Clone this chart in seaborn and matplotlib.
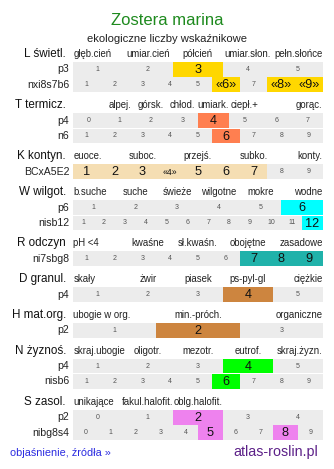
import matplotlib
matplotlib.use("Agg")
import matplotlib.pyplot as plt
import seaborn as sns
import pandas as pd

# ---------------- data ----------------
TITLE = "Zostera marina"
SUBTITLE = "ekologiczne liczby wskaźnikowe"
LINK_TEXT = "objaśnienie, źródła »"
SITE_TEXT = "atlas-roslin.pl"

L_name = "L świetl."
L_cats = ["głęb.cień", "umiar.cień", "półcień", "umiar.słon.", "pełn.słońce"]
L_cat_cells = [0, 1, 2, 3, 4]
L_p_code = "p3"
L_p_cells = ["1", "2", "3", "4", "5"]
L_p_marked = [2]
L_n_code = "nxi8s7b6"
L_n_cells = ["1", "2", "3", "4", "5", "«6»", "7", "«8»", "«9»"]
L_n_marked = [5, 7, 8]

T_name = "T termicz."
T_cats = ["alpej.", "górsk.", "chłod.", "umiark.", "ciepł.+", "gorąc."]
T_cat_cells = [1, 2, 3, 4, 5, 7]
T_p_code = "p4"
T_p_cells = ["0", "1", "2", "3", "4", "5", "6", "7"]
T_p_marked = [4]
T_n_code = "n6"
T_n_cells = ["1", "2", "3", "4", "5", "6", "7", "8", "9"]
T_n_marked = [5]

K_name = "K kontyn."
K_cats = ["euoce.", "suboc.", "przejś.", "subko.", "konty."]
K_cat_cells = [0, 2, 4, 6, 8]
K_n_code = "BCxA5E2"
K_n_cells = ["1", "2", "3", "«4»", "5", "6", "7", "8", "9"]
K_n_marked = [0, 1, 2, 3, 4, 5, 6]

W_name = "W wilgot."
W_cats = ["b.suche", "suche", "świeże", "wilgotne", "mokre", "wodne"]
W_cat_cells = [0, 1, 2, 3, 4, 5]
W_p_code = "p6"
W_p_cells = ["1", "2", "3", "4", "5", "6"]
W_p_marked = [5]
W_n_code = "nisb12"
W_n_cells = ["1", "2", "3", "4", "5", "6", "7", "8", "9", "10", "11", "12"]
W_n_marked = [11]

R_name = "R odczyn"
R_cats = ["pH <4", "kwaśne", "sł.kwaśn.", "obojętne", "zasadowe"]
R_cat_cells = [0, 1, 2, 3, 4]
R_n_code = "ni7sbg8"
R_n_cells = ["1", "2", "3", "4", "5", "6", "7", "8", "9"]
R_n_marked = [6, 7, 8]

D_name = "D granul."
D_cats = ["skały", "żwir", "piasek", "ps-pyl-gl", "ciężkie"]
D_cat_cells = [0, 1, 2, 3, 4]
D_p_code = "p4"
D_p_cells = ["1", "2", "3", "4", "5"]
D_p_marked = [3]

H_name = "H mat.org."
H_cats = ["ubogie w org.", "min.-próch.", "organiczne"]
H_cat_cells = [0, 1, 2]
H_p_code = "p2"
H_p_cells = ["1", "2", "3"]
H_p_marked = [1]

N_name = "N żyznoś."
N_cats = ["skraj.ubogie", "oligotr.", "mezotr.", "eutrof.", "skraj.żyzn."]
N_cat_cells = [0, 1, 2, 3, 4]
N_p_code = "p4"
N_p_cells = ["1", "2", "3", "4", "5"]
N_p_marked = [3]
N_n_code = "nisb6"
N_n_cells = ["1", "2", "3", "4", "5", "6", "7", "8", "9"]
N_n_marked = [5]

S_name = "S zasol."
S_cats = ["unikające", "fakul.halofit.", "oblg.halofit."]
S_cat_cells = [0, 1, 2]
S_p_code = "p2"
S_p_cells = ["0", "1", "2", "3", "4"]
S_p_marked = [2]
S_n_code = "nibg8s4"
S_n_cells = ["0", "1", "2", "3", "4", "5", "6", "7", "8", "9"]
S_n_marked = [5, 8]

# ---------------- styles / layout ----------------
GRAY = "#ececec"
SECTIONS = [
    dict(name=L_name, cats=L_cats, cat_cells=L_cat_cells, cat_n=len(L_p_cells), color="#ffd700",
         rows=[(L_p_code, L_p_cells, L_p_marked), (L_n_code, L_n_cells, L_n_marked)]),
    dict(name=T_name, cats=T_cats, cat_cells=T_cat_cells, cat_n=len(T_p_cells), color="#ff7f50",
         rows=[(T_p_code, T_p_cells, T_p_marked), (T_n_code, T_n_cells, T_n_marked)]),
    dict(name=K_name, cats=K_cats, cat_cells=K_cat_cells, cat_n=len(K_n_cells), color="#f5deb3",
         rows=[(K_n_code, K_n_cells, K_n_marked)], small_quoted=True),
    dict(name=W_name, cats=W_cats, cat_cells=W_cat_cells, cat_n=len(W_p_cells), color="#00ffff",
         rows=[(W_p_code, W_p_cells, W_p_marked), (W_n_code, W_n_cells, W_n_marked)]),
    dict(name=R_name, cats=R_cats, cat_cells=R_cat_cells, cat_n=5, color="#20b2aa",
         rows=[(R_n_code, R_n_cells, R_n_marked)]),
    dict(name=D_name, cats=D_cats, cat_cells=D_cat_cells, cat_n=len(D_p_cells), color="#cd853f",
         rows=[(D_p_code, D_p_cells, D_p_marked)]),
    dict(name=H_name, cats=H_cats, cat_cells=H_cat_cells, cat_n=len(H_p_cells), color="#cd853f",
         rows=[(H_p_code, H_p_cells, H_p_marked)]),
    dict(name=N_name, cats=N_cats, cat_cells=N_cat_cells, cat_n=len(N_p_cells), color="#00ff00",
         rows=[(N_p_code, N_p_cells, N_p_marked), (N_n_code, N_n_cells, N_n_marked)]),
    dict(name=S_name, cats=S_cats, cat_cells=S_cat_cells, cat_n=len(S_p_cells), color="#ee82ee",
         rows=[(S_p_code, S_p_cells, S_p_marked), (S_n_code, S_n_cells, S_n_marked)]),
]

W_PX, H_PX = 334, 469
BAR_X0, BAR_X1 = 72.8, 323.0
TOP0 = 62.0
ROW_H = 14.6
ROW_STEP = 15.4
SECTION_GAP = 20.4

sns.set_theme(style="white")
plt.rcParams['font.family'] = ['Liberation Sans', 'DejaVu Sans']

fig = plt.figure(figsize=(W_PX / 100, H_PX / 100), dpi=100)
fig.patch.set_facecolor("white")
base = fig.add_axes([0, 0, 1, 1])
base.set_xlim(0, W_PX)
base.set_ylim(H_PX, 0)
base.axis("off")

base.text(W_PX / 2, 20.5, TITLE, ha="center", va="center", fontsize=12, color="#1e8a1e")
base.text(W_PX / 2, 38.5, SUBTITLE, ha="center", va="center", fontsize=8.1, color="#222222")

top = TOP0
for sec in SECTIONS:
    hy = top - 8.2
    base.text(66, hy, sec["name"], ha="right", va="center", fontsize=8.4, color="#111111")
    cw = (BAR_X1 - BAR_X0) / sec["cat_n"]
    for lab, ci in zip(sec["cats"], sec["cat_cells"]):
        if ci == 0:
            base.text(BAR_X0 + 0.5, hy, lab, ha="left", va="center", fontsize=6.9, color="#222222")
        elif ci == sec["cat_n"] - 1:
            base.text(BAR_X1 - 0.5, hy, lab, ha="right", va="center", fontsize=6.9, color="#222222")
        else:
            base.text(BAR_X0 + (ci + 0.5) * cw, hy, lab, ha="center", va="center", fontsize=6.9,
                      color="#222222")
    for code, cells, marked in sec["rows"]:
        base.text(69.3, top + ROW_H / 2, code, ha="right", va="center", fontsize=7.6, color="#222222")
        ax = fig.add_axes([BAR_X0 / W_PX, 1 - (top + ROW_H) / H_PX,
                           (BAR_X1 - BAR_X0) / W_PX, ROW_H / H_PX])
        df = pd.DataFrame({
            "idx": list(range(len(cells))),
            "h": [1.0] * len(cells),
            "state": ["on" if i in marked else "off" for i in range(len(cells))],
        })
        sns.barplot(data=df, x="idx", y="h", hue="state", hue_order=["off", "on"],
                    palette={"off": GRAY, "on": sec["color"]}, saturation=1, width=1.0,
                    dodge=False, errorbar=None, legend=False, linewidth=0, ax=ax)
        ax.set_xlim(-0.5, len(cells) - 0.5)
        ax.set_ylim(0, 1)
        ax.axis("off")
        for i, lab in enumerate(cells):
            if i in marked:
                small = sec.get("small_quoted") and "«" in lab
                ax.text(i, 0.45, lab, ha="center", va="center",
                        fontsize=6.3 if small else 9.2, color="#111111")
            else:
                ax.text(i, 0.5, lab, ha="center", va="center", fontsize=5, color="#555555")
        top += ROW_STEP
    top += SECTION_GAP

base.text(10, 453, LINK_TEXT, ha="left", va="center", fontsize=7.8, color="#2a2ae0")
base.text(318.5, 452, SITE_TEXT, ha="right", va="center", fontsize=10.3, color="#5c2088")

fig.savefig("out.png", dpi=100)
